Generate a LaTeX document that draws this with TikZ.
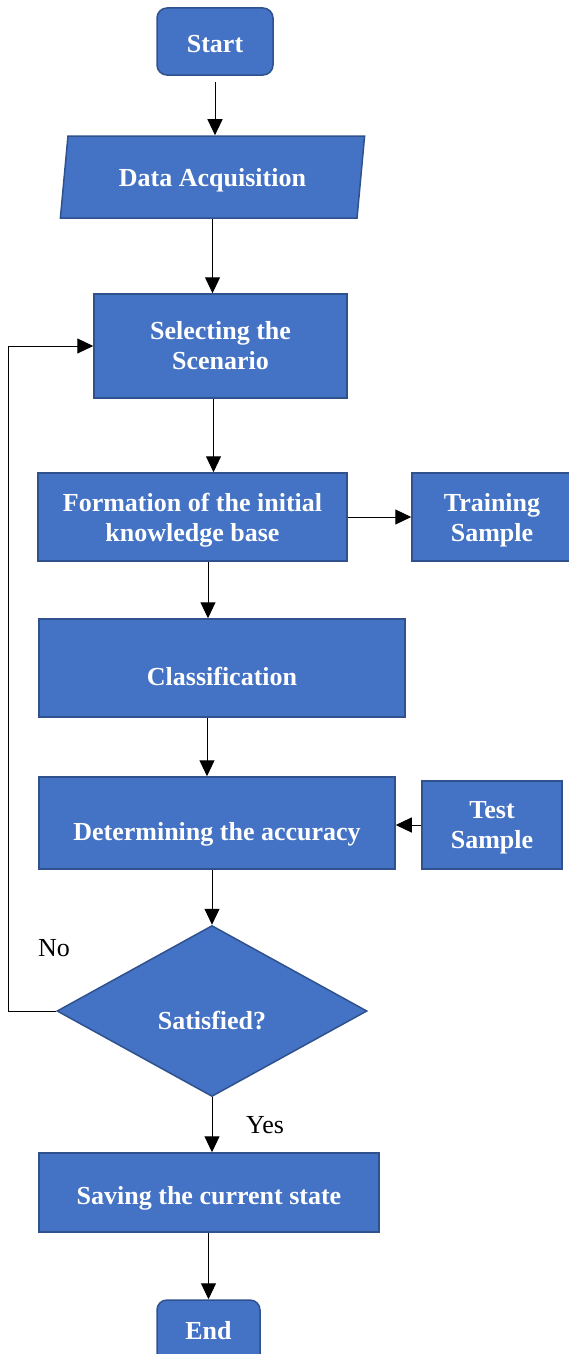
\documentclass[tikz,border=0pt]{standalone}
\usepackage{fontspec}
\setmainfont{Liberation Serif}
\usetikzlibrary{shapes.geometric,arrows.meta}
\definecolor{boxblue}{HTML}{4472C4}
\definecolor{boxline}{HTML}{2F528F}

\begin{document}
\begin{tikzpicture}[x=1pt, y=-1pt,
     every node/.style={text=white, font=\fontsize{26}{30}\selectfont\bfseries, align=center, inner sep=0pt},
     block/.style={rectangle, fill=boxblue, draw=boxline, line width=1.5pt},
     term/.style={block, rounded corners=10pt},
     io/.style={block, trapezium, trapezium left angle=81, trapezium right angle=99, trapezium stretches=true},
     decision/.style={block, diamond, aspect=1.8},
     drop/.style={text height=#1, text depth=6pt},
     answer/.style={text=black, font=\fontsize{26}{30}\selectfont},
     line/.style={draw, line width=1pt, -{Triangle[length=16pt,width=15pt]}}]

   \clip (0,0) rectangle (569,1354);

   \node[term, drop=28pt, minimum width=116pt, minimum height=67pt] (start) at (215,41.5) {Start};
   \node[io, drop=25pt, minimum width=305pt, minimum height=82pt] (acq) at (212.5,177) {Data Acquisition};
   \node[block, minimum width=253pt, minimum height=104pt] (select) at (220.5,346) {Selecting the\\Scenario};
   \node[block, text depth=0pt, minimum width=309pt, minimum height=88pt] (form) at (192.5,517) {Formation of the initial\\knowledge base};
   \node[block, text depth=0pt, minimum width=160pt, minimum height=88pt] (train) at (492,517) {Training\\Sample};
   \node[block, drop=41pt, minimum width=366pt, minimum height=98pt] (class) at (222,668) {Classification};
   \node[block, drop=41pt, minimum width=356pt, minimum height=92pt] (determ) at (217,823) {Determining the accuracy};
   \node[block, text depth=0pt, minimum width=140pt, minimum height=88pt] (test) at (492,825) {Test\\Sample};
   \node[decision, drop=43pt, minimum width=310pt, minimum height=171pt] (sat) at (212,1011) {Satisfied?};
   \node[block, drop=30pt, minimum width=340pt, minimum height=79pt] (save) at (209,1192.5) {Saving the current state};
   \node[term, drop=18pt, minimum width=103pt, minimum height=67pt] (end) at (208.5,1333.5) {End};

   \node[answer] (no) at (54,948) {No};
   \node[answer] (yes) at (265,1125) {Yes};

   \draw[line] ([yshift=-6pt]start.south) -- (start.south |- acq.north);
   \draw[line] (acq.south) -- (acq.south |- select.north);
   \draw[line] ([xshift=-7pt]select.south) -- ([xshift=-7pt]select.south |- form.north);
   \draw[line] (form.east) -- (train.west);
   \draw[line] ([xshift=15.5pt]form.south) -- ([xshift=15.5pt]form.south |- class.north);
   \draw[line] ([xshift=-15pt]class.south) -- ([xshift=-15pt]class.south |- determ.north);
   \draw[line] (test.west) -- (test.west -| determ.east);
   \draw[line] (determ.south -| sat.north) -- (sat.north);
   \draw[line] (sat.south) -- (sat.south |- save.north);
   \draw[line] (save.south -| end.north) -- (end.north);
   \draw[line] (sat.west) -- ++(-48,0) |- (select.west);
\end{tikzpicture}
\end{document}
